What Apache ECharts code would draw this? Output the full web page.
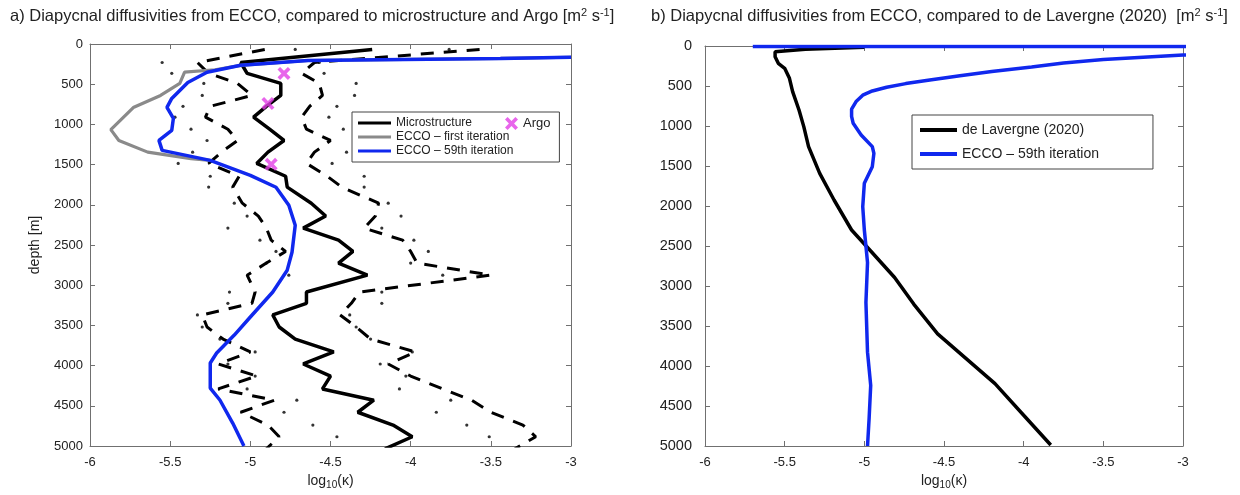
<!DOCTYPE html>
<html>
<head>
<meta charset="utf-8">
<title>Diapycnal diffusivities</title>
<script src="https://cdn.jsdelivr.net/npm/echarts@6/dist/echarts.min.js"></script>
<style>
  html, body { margin: 0; padding: 0; background: #fff; }
  #chart { width: 1240px; height: 495px; }
</style>
</head>
<body>
<div id="chart"></div>
<script>
// ---- panel a: microstructure profile (depth levels shared by mean / dashed / dotted)
const msDepth = [68, 230, 365, 490, 640, 775, 910, 1060, 1200, 1345, 1485, 1645, 1780, 1980, 2140, 2290, 2440,
  2580, 2725, 2875, 3085, 3225, 3370, 3520, 3670, 3830, 3980, 4130, 4290, 4430, 4580, 4740, 4885, 5035];
const msMean = [-4.24, -5.06, -5.02, -4.81, -4.81, -4.90, -4.98, -4.88, -4.79, -4.89, -4.96, -4.78, -4.77, -4.62,
  -4.53, -4.67, -4.45, -4.36, -4.45, -4.27, -4.65, -4.65, -4.86, -4.82, -4.72, -4.48, -4.67, -4.50, -4.55, -4.23,
  -4.33, -4.11, -3.99, -4.16];
const msDashLo = [-4.91, -5.33, -5.26, -5.08, -4.99, -5.25, -5.28, -5.14, -5.08, -5.18, -5.26, -5.07, -5.11, -5.05,
  -4.95, -4.90, -4.87, -4.78, -4.90, -5.02, -4.97, -4.99, -5.30, -5.27, -5.17, -5.00, -5.20, -4.96, -5.20, -4.85,
  -5.06, -4.89, -4.82, -4.90];
const msDashHi = [-3.57, -4.60, -4.68, -4.57, -4.55, -4.63, -4.68, -4.65, -4.50, -4.60, -4.65, -4.52, -4.43, -4.20,
  -4.22, -4.29, -4.05, -4.00, -3.96, -3.50, -4.32, -4.37, -4.44, -4.34, -4.25, -3.97, -4.14, -4.00, -3.80, -3.62,
  -3.50, -3.30, -3.22, -3.35];
const msDotLo = [-4.72, -5.55, -5.49, -5.29, -5.30, -5.42, -5.47, -5.37, -5.27, -5.36, -5.45, -5.25, -5.26, -5.10,
  -5.02, -5.14, -4.94, -4.84, -4.90, -4.76, -5.13, -5.14, -5.33, -5.30, -5.19, -4.97, -5.14, -4.97, -5.02, -4.71,
  -4.79, -4.61, -4.46, null];
const msDotHi = [-3.76, -4.57, -4.54, -4.34, -4.35, -4.46, -4.51, -4.42, -4.31, -4.40, -4.49, -4.29, -4.29, -4.14,
  -4.06, -4.18, -3.98, -3.89, -4.00, -3.80, -4.18, -4.18, -4.38, -4.34, -4.25, -3.99, -4.19, -4.03, -4.07, -3.75,
  -3.84, -3.65, -3.51, null];

// ECCO profiles, panel a  [log10 kappa, depth]
const eccoFirstA = [[-3.0, 165], [-3.44, 180], [-4.64, 205], [-5.06, 265], [-5.22, 320], [-5.41, 350], [-5.44, 490],
  [-5.56, 640], [-5.73, 790], [-5.87, 1065], [-5.82, 1200], [-5.64, 1345], [-5.37, 1425], [-5.25, 1447]];
const ecco59A = [[-3.0, 165], [-3.44, 180], [-4.64, 205], [-5.06, 265], [-5.27, 352], [-5.39, 478], [-5.49, 677],
  [-5.52, 789], [-5.48, 925], [-5.49, 1074], [-5.57, 1199], [-5.55, 1323], [-5.25, 1447], [-5.0, 1633],
  [-4.84, 1782], [-4.76, 2006], [-4.72, 2255], [-4.74, 2590], [-4.77, 2813], [-4.86, 3085], [-5.0, 3396],
  [-5.10, 3620], [-5.21, 3843], [-5.25, 3968], [-5.25, 4279], [-5.19, 4428], [-5.11, 4715], [-5.04, 5000]];

// Argo estimates
const argoVal = [-4.79, -4.89, -4.87];
const argoDepth = [366, 740, 1497];

// ---- panel b
const lavergneB = [[-5.0, 15], [-5.37, 42], [-5.56, 71], [-5.56, 133], [-5.54, 217], [-5.50, 279], [-5.47, 404],
  [-5.45, 571], [-5.41, 800], [-5.38, 1008], [-5.35, 1258], [-5.28, 1592], [-5.19, 1925], [-5.08, 2300],
  [-4.96, 2562], [-4.81, 2894], [-4.69, 3226], [-4.54, 3599], [-4.18, 4221], [-4.0, 4615], [-3.83, 4988]];
const ecco59B = [[-5.70, 7], [-2.0, 7], [-2.0, 90], [-3.0, 112], [-3.25, 140], [-3.5, 170], [-3.75, 212],
  [-3.95, 262], [-4.2, 318], [-4.40, 372], [-4.6, 428], [-4.74, 470], [-4.86, 515], [-4.95, 562], [-5.01, 615],
  [-5.05, 690], [-5.08, 790], [-5.08, 880], [-5.07, 967], [-5.02, 1112], [-4.95, 1258], [-4.94, 1342],
  [-4.95, 1508], [-5.0, 1717], [-5.01, 2008], [-5.0, 2300], [-4.99, 2500], [-4.98, 2707], [-4.99, 3205],
  [-4.98, 3827], [-4.96, 4242], [-4.97, 4656], [-4.98, 5000]];

const xTicks = { min: -6, max: -3, interval: 0.5 };
const yTicks = { min: 0, max: 5000, interval: 500 };

(function () {
  'use strict';

  const FONT = '"Liberation Sans", Arial, Helvetica, sans-serif';
  const C = {
    ink: '#000000',
    text: '#222222',
    axis: '#707070',
    blue: '#1028ee',
    gray: '#8a8a8a',
    argo: '#e23fe6',
  };
  // 粗笔画的 X
  const X_PATH = 'path://M0,4 L4,0 L10,6 L16,0 L20,4 L14,10 L20,16 L16,20 L10,14 L4,20 L0,16 L6,10 Z';

  const pairs = (vals) => msDepth.map((d, i) => [vals[i], d]).filter(p => p[0] !== null);

  // 主轴 + 对边的框线轴（MATLAB box 风格，刻度朝内）
  function xAx(grid, pos, withLabel, name) {
    return {
      type: 'value', gridIndex: grid, position: pos, ...xTicks,
      axisLine: { onZero: false, lineStyle: { color: C.axis, width: 1 } },
      axisTick: { inside: true, length: 5, lineStyle: { color: C.axis } },
      axisLabel: { show: withLabel, color: C.text, fontSize: 13, fontFamily: FONT, margin: 10,
        formatter: v => String(v) },
      splitLine: { show: false },
      name: name || '', nameLocation: 'middle', nameGap: 26,
      nameTextStyle: {
        color: C.text, fontFamily: FONT,
        rich: {
          t: { fontSize: 14, fontFamily: FONT, color: C.text },
          s: { fontSize: 10, fontFamily: FONT, color: C.text, padding: [8, 0, 0, 0] },
        },
      },
    };
  }
  function yAx(grid, pos, withLabel, labelSize, margin, name) {
    return {
      type: 'value', gridIndex: grid, position: pos, inverse: true, ...yTicks,
      axisLine: { onZero: false, lineStyle: { color: C.axis, width: 1 } },
      axisTick: { inside: true, length: 5, lineStyle: { color: C.axis } },
      axisLabel: { show: withLabel, color: C.text, fontSize: labelSize, fontFamily: FONT, margin: margin,
        formatter: v => String(v) },
      splitLine: { show: false },
      name: name || '', nameLocation: 'middle', nameGap: 48,
      nameTextStyle: { color: C.text, fontSize: 14, fontFamily: FONT },
    };
  }
  const KAPPA = '{t|log}{s|10}{t|(κ)}';
  const titleStyle = {
    fontSize: 16.5, fontWeight: 'normal', color: C.text, fontFamily: FONT,
    rich: { sup: { fontSize: 11, fontFamily: FONT, color: C.text, padding: [0, 0, 8, 0] } },
  };

  const chart = echarts.init(document.getElementById('chart'), null, { renderer: 'canvas' });

  chart.setOption({
    animation: false,
    backgroundColor: '#fff',
    textStyle: { fontFamily: FONT },
    title: [
      {
        text: 'a) Diapycnal diffusivities from ECCO, compared to microstructure and Argo [m{sup|2} s{sup|-1}]',
        left: 5, top: 2, textStyle: titleStyle,
      },
      {
        text: 'b) Diapycnal diffusivities from ECCO, compared to de Lavergne (2020)  [m{sup|2} s{sup|-1}]',
        left: 646, top: 2, textStyle: titleStyle,
      },
    ],
    grid: [
      { left: 90, top: 44, width: 481, height: 402 },
      { left: 705, top: 46, width: 478, height: 400 },
    ],
    xAxis: [
      xAx(0, 'bottom', true, KAPPA),
      xAx(0, 'top', false),
      xAx(1, 'bottom', true, KAPPA),
      xAx(1, 'top', false),
    ],
    yAxis: [
      yAx(0, 'left', true, 13, 7, 'depth [m]'),
      yAx(0, 'right', false, 13, 7),
      yAx(1, 'left', true, 14.5, 13),
      yAx(1, 'right', false, 13, 7),
    ],
    legend: [
      {
        data: ['Microstructure', 'ECCO – first iteration', 'ECCO – 59th iteration'],
        orient: 'vertical', left: 352, top: 112,
        icon: 'rect', itemWidth: 33, itemHeight: 3, itemGap: 2,
        padding: [5, 46, 5, 6],
        borderColor: '#444', borderWidth: 1, backgroundColor: '#fff',
        selectedMode: false,
        textStyle: { fontSize: 12, color: C.text, fontFamily: FONT },
      },
      {
        data: ['Argo'], left: 504, top: 116,
        itemWidth: 13, itemHeight: 13, padding: 1,
        selectedMode: false,
        textStyle: { fontSize: 13, color: C.text, fontFamily: FONT },
      },
      {
        data: ['de Lavergne (2020)', 'ECCO – 59th iteration'],
        orient: 'vertical', left: 912, top: 115,
        icon: 'rect', itemWidth: 37, itemHeight: 4, itemGap: 10,
        padding: [8, 54, 8, 8],
        borderColor: '#444', borderWidth: 1, backgroundColor: '#fff',
        selectedMode: false,
        textStyle: { fontSize: 14, color: C.text, fontFamily: FONT },
      },
    ],
    series: [
      // dotted envelopes (markers at each level)
      { type: 'scatter', name: 'dotLo', data: pairs(msDotLo), symbol: 'circle', symbolSize: 3.2,
        itemStyle: { color: C.ink }, silent: true },
      { type: 'scatter', name: 'dotHi', data: pairs(msDotHi), symbol: 'circle', symbolSize: 3.2,
        itemStyle: { color: C.ink }, silent: true },
      // dashed envelopes
      { type: 'line', name: 'dashLo', data: pairs(msDashLo), symbol: 'none',
        lineStyle: { color: C.ink, width: 3, type: [13, 10] } },
      { type: 'line', name: 'dashHi', data: pairs(msDashHi), symbol: 'none',
        lineStyle: { color: C.ink, width: 3, type: [13, 10] } },
      { type: 'line', name: 'Microstructure', data: pairs(msMean), symbol: 'none',
        itemStyle: { color: C.ink }, lineStyle: { color: C.ink, width: 3.5 } },
      { type: 'line', name: 'ECCO – first iteration', data: eccoFirstA, symbol: 'none',
        itemStyle: { color: C.gray }, lineStyle: { color: C.gray, width: 3.2 } },
      { type: 'line', name: 'ECCO – 59th iteration', data: ecco59A, symbol: 'none',
        itemStyle: { color: C.blue }, lineStyle: { color: C.blue, width: 3.5 } },
      { type: 'scatter', name: 'Argo', data: argoVal.map((v, i) => [v, argoDepth[i]]),
        symbol: X_PATH, symbolSize: 13, itemStyle: { color: C.argo }, z: 5 },
      // panel b
      { type: 'line', name: 'de Lavergne (2020)', xAxisIndex: 2, yAxisIndex: 2, data: lavergneB,
        symbol: 'none', itemStyle: { color: C.ink }, lineStyle: { color: C.ink, width: 3.5 } },
      { type: 'line', name: 'ECCO – 59th iteration', xAxisIndex: 2, yAxisIndex: 2, data: ecco59B,
        symbol: 'none', itemStyle: { color: C.blue }, lineStyle: { color: C.blue, width: 3.5 } },
    ],
  });
  window.addEventListener('resize', () => chart.resize());
})();
</script>
</body>
</html>
